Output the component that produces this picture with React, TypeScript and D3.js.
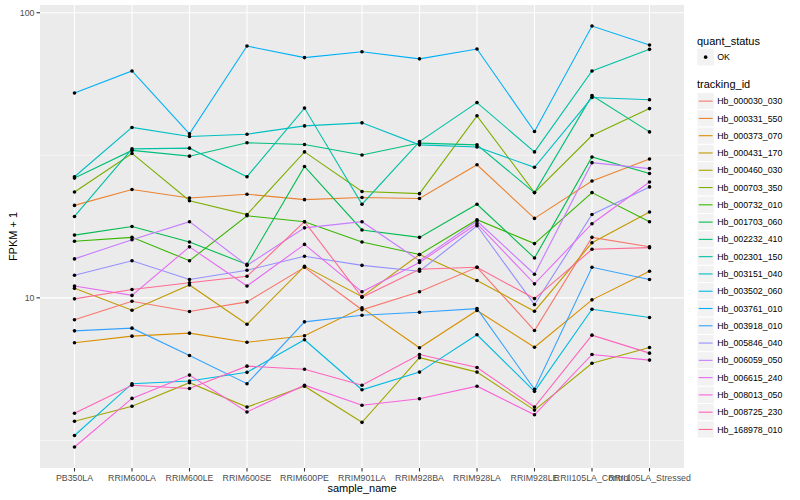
import * as d3 from "d3";

// sample_name on the x axis
const samples = [
  "PB350LA",
  "RRIM600LA",
  "RRIM600LE",
  "RRIM600SE",
  "RRIM600PE",
  "RRIM901LA",
  "RRIM928BA",
  "RRIM928LA",
  "RRIM928LE",
  "RRII105LA_Control",
  "RRII105LA_Stressed",
];

const trackingIds = [
  "Hb_000030_030",
  "Hb_000331_550",
  "Hb_000373_070",
  "Hb_000431_170",
  "Hb_000460_030",
  "Hb_000703_350",
  "Hb_000732_010",
  "Hb_001703_060",
  "Hb_002232_410",
  "Hb_002301_150",
  "Hb_003151_040",
  "Hb_003502_060",
  "Hb_003761_010",
  "Hb_003918_010",
  "Hb_005846_040",
  "Hb_006059_050",
  "Hb_006615_240",
  "Hb_008013_050",
  "Hb_008725_230",
  "Hb_168978_010",
];

// FPKM + 1, one value per sample (same order as samples)
const hb000030_030 = [8.38, 9.73, 8.96, 9.68, 12.8, 9.08, 10.5, 12.8, 7.68, 16.3, 15.1];
const hb000331_550 = [21.1, 24.0, 22.4, 23.1, 22.1, 22.5, 22.3, 29.3, 19.0, 25.7, 30.7];
const hb000373_070 = [6.96, 7.34, 7.52, 6.99, 7.36, 9.23, 6.68, 9.03, 6.71, 9.84, 12.4];
const hb000431_170 = [10.8, 9.05, 11.1, 8.08, 12.9, 10.1, 14.2, 11.5, 8.98, 15.6, 20.0];
const hb000460_030 = [3.69, 4.17, 5.04, 4.14, 4.9, 3.66, 6.17, 5.49, 4.04, 5.9, 6.7];
const hb000703_350 = [23.5, 32.1, 21.9, 19.6, 32.5, 23.6, 23.2, 43.5, 23.4, 37.1, 46.1];
const hb000732_010 = [15.8, 16.3, 13.5, 19.4, 18.5, 15.7, 14.2, 18.8, 15.5, 23.4, 18.5];
const hb001703_060 = [16.6, 17.8, 15.7, 13.1, 28.9, 17.3, 16.3, 21.3, 13.8, 31.2, 27.3];
const hb002232_410 = [26.3, 32.9, 31.4, 35.0, 34.5, 31.7, 34.9, 34.4, 23.4, 51.2, 38.2];
const hb002301_150 = [19.3, 33.3, 33.5, 26.6, 46.3, 21.3, 35.3, 48.4, 32.5, 62.5, 74.4];
const hb003151_040 = [26.6, 39.6, 36.8, 37.5, 40.1, 41.1, 34.4, 33.8, 28.7, 50.4, 49.5];
const hb003502_060 = [3.29, 5.0, 5.11, 5.48, 7.13, 4.76, 5.49, 7.42, 4.7, 9.12, 8.53];
const hb003761_010 = [52.3, 62.5, 37.6, 76.4, 69.6, 73.0, 68.9, 74.6, 38.3, 89.8, 77.1];
const hb003918_010 = [7.66, 7.83, 6.28, 5.0, 8.24, 8.69, 8.9, 9.17, 4.78, 12.8, 11.6];
const hb005846_040 = [12.0, 13.5, 11.6, 12.5, 14.0, 13.0, 12.4, 17.9, 9.47, 19.6, 24.5];
const hb006059_050 = [13.7, 16.0, 18.5, 13.0, 17.6, 18.5, 13.5, 18.6, 12.1, 29.8, 28.4];
const hb006615_240 = [11.0, 10.2, 15.1, 11.0, 15.4, 10.5, 13.3, 18.2, 11.2, 18.2, 25.5];
const hb008013_050 = [3.0, 4.44, 5.36, 3.98, 4.94, 4.2, 4.43, 4.9, 3.89, 6.33, 6.05];
const hb008725_230 = [3.94, 4.94, 4.81, 5.76, 5.62, 4.94, 6.33, 5.7, 4.14, 7.4, 6.4];
const hb168978_010 = [9.92, 10.7, 11.3, 11.9, 18.5, 10.05, 12.6, 12.8, 9.94, 14.8, 15.0];

const seriesValues = [
  hb000030_030, hb000331_550, hb000373_070, hb000431_170, hb000460_030,
  hb000703_350, hb000732_010, hb001703_060, hb002232_410, hb002301_150,
  hb003151_040, hb003502_060, hb003761_010, hb003918_010, hb005846_040,
  hb006059_050, hb006615_240, hb008013_050, hb008725_230, hb168978_010,
];

const yTicks = [10, 100];
const yMinor = [Math.sqrt(10), Math.sqrt(1000)];

// ggplot hue palette, 20 levels
const palette = [
  "#F8766D", "#EA8331", "#D89000", "#C09B00", "#A3A500",
  "#7CAE00", "#39B600", "#00BB4E", "#00BF7D", "#00C1A3",
  "#00BFC4", "#00BAE0", "#00B0F6", "#35A2FF", "#9590FF",
  "#C77CFF", "#E76BF3", "#FA62DB", "#FF62BC", "#FF6C91",
];

const W = 800;
const H = 500;
const panel = { left: 40, right: 684, top: 5, bottom: 468 };
const font = "'Liberation Sans', Arial, Helvetica, sans-serif";

export default function App() {
  document.body.style.margin = "0";

  const series = trackingIds.map((id, i) => ({
    id,
    color: palette[i],
    values: seriesValues[i],
  }));

  const x = d3
    .scalePoint<string>()
    .domain(samples)
    .range([panel.left, panel.right])
    .padding(0.6);

  const all = seriesValues.flat();
  const [lo, hi] = d3.extent(all) as [number, number];
  const lLo = Math.log10(lo);
  const lHi = Math.log10(hi);
  const pad = (lHi - lLo) * 0.05;
  const y = d3
    .scaleLog()
    .domain([Math.pow(10, lLo - pad), Math.pow(10, lHi + pad)])
    .range([panel.bottom, panel.top]);

  const line = d3
    .line<number>()
    .x((_, i) => x(samples[i]) as number)
    .y((d) => y(d));

  const legendX = 697;
  const keySize = 17.28;
  const trackTop = 92.5;

  return (
    <svg
      width={W}
      height={H}
      style={{ display: "block", position: "absolute", left: 0, top: 0, background: "#fff" }}
      fontFamily={font}
    >
      {/* panel */}
      <rect
        x={panel.left}
        y={panel.top}
        width={panel.right - panel.left}
        height={panel.bottom - panel.top}
        fill="#EBEBEB"
      />
      {yMinor.map((t) => (
        <line key={"mn" + t} x1={panel.left} x2={panel.right} y1={y(t)} y2={y(t)} stroke="#fff" strokeWidth={0.55} />
      ))}
      {yTicks.map((t) => (
        <line key={"mj" + t} x1={panel.left} x2={panel.right} y1={y(t)} y2={y(t)} stroke="#fff" strokeWidth={1.1} />
      ))}
      {samples.map((s) => (
        <line key={"gx" + s} x1={x(s)} x2={x(s)} y1={panel.top} y2={panel.bottom} stroke="#fff" strokeWidth={1.1} />
      ))}

      {/* lines */}
      {series.map((s) => (
        <path key={s.id} d={line(s.values) as string} fill="none" stroke={s.color} strokeWidth={1.1} />
      ))}
      {/* points */}
      {series.map((s) =>
        s.values.map((v, i) => (
          <circle key={s.id + i} cx={x(samples[i])} cy={y(v)} r={1.8} fill="#000" />
        ))
      )}

      {/* y axis */}
      {yTicks.map((t) => (
        <g key={"yt" + t}>
          <line x1={panel.left - 3.5} x2={panel.left} y1={y(t)} y2={y(t)} stroke="#333" strokeWidth={1.1} />
          <text x={panel.left - 5.5} y={y(t)} dy="0.35em" textAnchor="end" fontSize={8.8} fill="#4D4D4D">
            {t}
          </text>
        </g>
      ))}
      <text
        transform={`translate(13,${(panel.top + panel.bottom) / 2}) rotate(-90)`}
        textAnchor="middle"
        dy="0.35em"
        fontSize={11}
        fill="#000"
      >
        FPKM + 1
      </text>

      {/* x axis */}
      {samples.map((s) => (
        <g key={"xt" + s}>
          <line x1={x(s)} x2={x(s)} y1={panel.bottom} y2={panel.bottom + 3.5} stroke="#333" strokeWidth={1.1} />
          <text x={x(s)} y={panel.bottom + 12.5} textAnchor="middle" fontSize={8.8} fill="#4D4D4D">
            {s}
          </text>
        </g>
      ))}
      <text x={(panel.left + panel.right) / 2} y={492} textAnchor="middle" fontSize={11} fill="#000">
        sample_name
      </text>

      {/* legend: quant_status */}
      <text x={legendX} y={41} dy="0.35em" fontSize={11} fill="#000">
        quant_status
      </text>
      <rect x={legendX} y={48.5} width={keySize} height={keySize} fill="#F2F2F2" stroke="#fff" strokeWidth={0.5} />
      <circle cx={legendX + keySize / 2} cy={48.5 + keySize / 2} r={1.8} fill="#000" />
      <text x={legendX + keySize + 3} y={48.5 + keySize / 2} dy="0.35em" fontSize={8.8} fill="#000">
        OK
      </text>

      {/* legend: tracking_id */}
      <text x={legendX} y={84.3} dy="0.35em" fontSize={11} fill="#000">
        tracking_id
      </text>
      {series.map((s, i) => {
        const ky = trackTop + i * keySize;
        return (
          <g key={"lg" + s.id}>
            <rect x={legendX} y={ky} width={keySize} height={keySize} fill="#F2F2F2" stroke="#fff" strokeWidth={1} />
            <line
              x1={legendX + 1.7}
              x2={legendX + keySize - 1.7}
              y1={ky + keySize / 2}
              y2={ky + keySize / 2}
              stroke={s.color}
              strokeWidth={1.1}
            />
            <text x={legendX + keySize + 3} y={ky + keySize / 2} dy="0.35em" fontSize={8.8} fill="#000">
              {s.id}
            </text>
          </g>
        );
      })}
    </svg>
  );
}
